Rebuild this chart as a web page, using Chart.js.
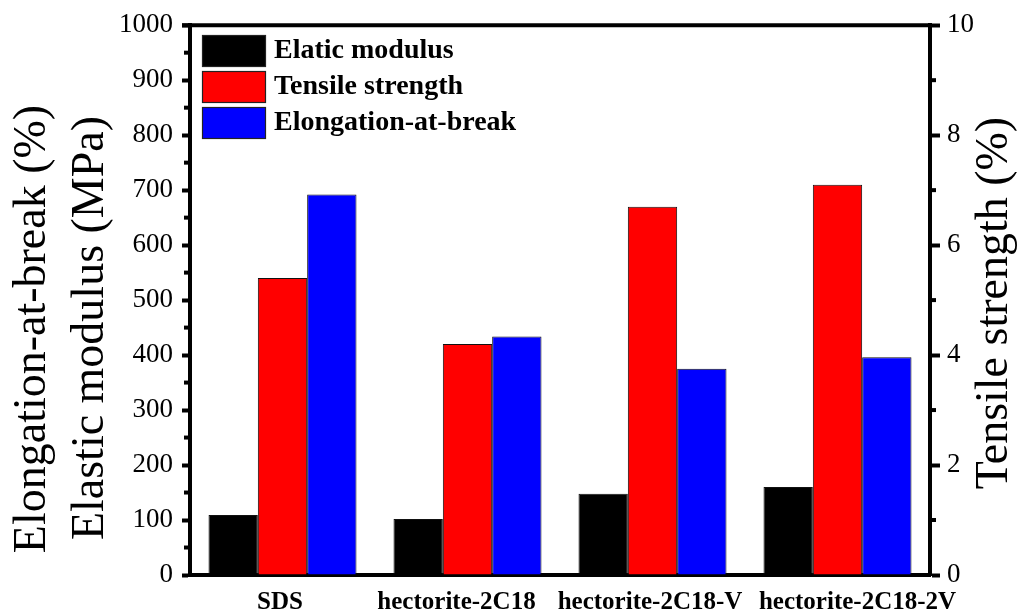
<!DOCTYPE html>
<html>
<head>
<meta charset="utf-8">
<script src="https://cdn.jsdelivr.net/npm/chart.js@4.4.1/dist/chart.umd.min.js"></script>
<style>
html,body{margin:0;padding:0;background:#fff;}
canvas{display:block;}
</style>
</head>
<body>
<canvas id="c" width="1022" height="613"></canvas>
<script>
// ---- data ----
const categories = ['SDS', 'hectorite-2C18', 'hectorite-2C18-V', 'hectorite-2C18-2V'];
const seriesNames = ['Elatic modulus', 'Tensile strength', 'Elongation-at-break'];
const elasticModulus = [109, 102, 148, 160];       // MPa, left axis
const tensileStrength = [5.4, 4.2, 6.7, 7.1];      // %, right axis
const elongation = [692, 434, 375, 396];           // %, left axis
const leftTicks = [0, 100, 200, 300, 400, 500, 600, 700, 800, 900, 1000];
const rightTicks = [0, 2, 4, 6, 8, 10];
const leftTitles = ['Elongation-at-break (%)', 'Elastic modulus (MPa)'];
const rightTitle = 'Tensile strength (%)';

const SERIF = "'Liberation Serif','Times New Roman',serif";
const colors = ['#000000', '#ff0000', '#0000ff'];
// horizontal nudges of the category labels (layout only)
const labelNudge = [-2.5, -11, -2.5, 20];

const decor = {
  id: 'decor',
  afterDraw(chart) {
    const ctx = chart.ctx;
    const ca = chart.chartArea;
    const x = chart.scales.x, y = chart.scales.y, y1 = chart.scales.y1;
    ctx.save();
    // top frame line
    ctx.strokeStyle = '#000';
    ctx.lineWidth = 4;
    ctx.beginPath();
    ctx.moveTo(ca.left - 8, ca.top);
    ctx.lineTo(ca.right + 2, ca.top);
    ctx.stroke();
    // minor ticks
    for (let v = 50; v < 1000; v += 100) {
      const p = y.getPixelForValue(v);
      ctx.beginPath(); ctx.moveTo(ca.left, p); ctx.lineTo(ca.left - 6, p); ctx.stroke();
    }
    for (let v = 1; v < 10; v += 2) {
      const p = y1.getPixelForValue(v);
      ctx.beginPath(); ctx.moveTo(ca.right, p); ctx.lineTo(ca.right + 6, p); ctx.stroke();
    }
    // category labels
    ctx.font = "bold 25px " + SERIF;
    ctx.fillStyle = '#000';
    ctx.textAlign = 'center';
    ctx.textBaseline = 'alphabetic';
    categories.forEach((c, i) => {
      ctx.fillText(c, x.getPixelForValue(i) + labelNudge[i], 609);
    });
    // legend
    ctx.font = "bold 28px " + SERIF;
    ctx.textBaseline = 'middle';
    ctx.textAlign = 'left';
    for (let i = 0; i < seriesNames.length; i++) {
      const top = 35 + i * 36;
      ctx.fillStyle = colors[i];
      ctx.fillRect(202, top, 63, 31);
      ctx.lineWidth = 1.2;
      ctx.strokeStyle = '#222';
      ctx.strokeRect(202.5, top + 0.5, 63, 31);
      ctx.fillStyle = '#000';
      ctx.fillText(seriesNames[i], 274, top + 16);
    }
    // axis titles
    ctx.font = "46px " + SERIF;
    ctx.fillStyle = '#000';
    ctx.textAlign = 'center';
    ctx.textBaseline = 'middle';
    const titlePos = [[33, 329], [91, 328]];
    for (let i = 0; i < leftTitles.length; i++) {
      ctx.save();
      ctx.translate(titlePos[i][0], titlePos[i][1]);
      ctx.rotate(-Math.PI / 2);
      ctx.fillText(leftTitles[i], 0, 0);
      ctx.restore();
    }
    ctx.save();
    ctx.translate(995, 303);
    ctx.rotate(-Math.PI / 2);
    ctx.fillText(rightTitle, 0, 0);
    ctx.restore();
    ctx.restore();
  }
};

new Chart(document.getElementById('c'), {
  type: 'bar',
  data: {
    labels: categories,
    datasets: [
      { label: seriesNames[0], data: elasticModulus, yAxisID: 'y', backgroundColor: colors[0], borderColor: '#111', borderWidth: 1 },
      { label: seriesNames[1], data: tensileStrength, yAxisID: 'y1', backgroundColor: colors[1], borderColor: '#111', borderWidth: 1 },
      { label: seriesNames[2], data: elongation, yAxisID: 'y', backgroundColor: colors[2], borderColor: '#111', borderWidth: 1 }
    ]
  },
  plugins: [decor],
  options: {
    responsive: false,
    animation: false,
    devicePixelRatio: 1,
    layout: { padding: { top: 24, left: 0, right: 0, bottom: 0 } },
    plugins: { legend: { display: false }, tooltip: { enabled: false } },
    datasets: { bar: { categoryPercentage: 0.8, barPercentage: 1.0 } },
    scales: {
      x: {
        grid: { display: false, drawTicks: false },
        border: { display: true, color: '#000', width: 4 },
        ticks: { display: false },
        afterFit(s) { s.height = 38; }
      },
      y: {
        position: 'left',
        min: 0, max: 1000,
        afterBuildTicks(s) { s.ticks = leftTicks.map(v => ({ value: v })); },
        grid: { drawOnChartArea: false, drawTicks: true, tickLength: 8, tickWidth: 4, tickColor: '#000' },
        border: { display: true, color: '#000', width: 4 },
        ticks: { color: '#000', font: { family: SERIF, size: 27 }, padding: 9, callback: v => String(v) },
        afterFit(s) { s.width = 190; }
      },
      y1: {
        position: 'right',
        min: 0, max: 10,
        afterBuildTicks(s) { s.ticks = rightTicks.map(v => ({ value: v })); },
        grid: { drawOnChartArea: false, drawTicks: true, tickLength: 10, tickWidth: 4, tickColor: '#000' },
        border: { display: true, color: '#000', width: 4 },
        ticks: { color: '#000', font: { family: SERIF, size: 27 }, padding: 7, callback: v => String(v) },
        afterFit(s) { s.width = 92; }
      }
    }
  }
});
</script>
</body>
</html>
